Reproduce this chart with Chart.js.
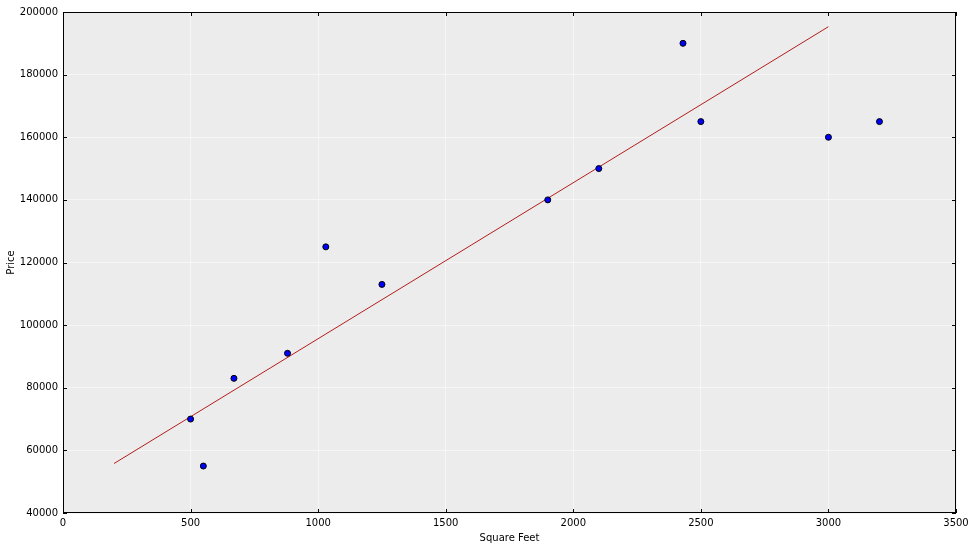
<!DOCTYPE html>
<html>
<head>
<meta charset="utf-8">
<script src="https://cdn.jsdelivr.net/npm/chart.js@4"></script>
<style>
  html, body { margin: 0; padding: 0; background: #fff; }
  #wrap { width: 974px; height: 550px; }
</style>
</head>
<body>
<div id="wrap"><canvas id="chart" width="974" height="550"></canvas></div>
<script>
  // Daten
  const squareFeet = [500, 550, 670, 880, 1030, 1250, 1900, 2100, 2430, 2500, 3000, 3200];
  const prices = [70000, 55000, 83000, 91000, 125000, 113000, 140000, 150000, 190000, 165000, 160000, 165000];
  const fitX = [200, 3000];
  const fitY = [55800, 195300];

  const FONT = { family: "'DejaVu Sans', sans-serif", size: 10 };

  // Hintergrund, Rahmen und innenliegende Ticks wie bei matplotlib
  const framePlugin = {
    id: "frame",
    beforeDraw(chart) {
      const a = chart.chartArea, ctx = chart.ctx;
      ctx.save();
      ctx.fillStyle = "#ececec";
      ctx.fillRect(a.left, a.top, a.right - a.left, a.bottom - a.top);
      ctx.restore();
    },
    afterDraw(chart) {
      const a = chart.chartArea, ctx = chart.ctx;
      const xs = chart.scales.x, ys = chart.scales.y;
      ctx.save();
      ctx.strokeStyle = "#000";
      ctx.lineWidth = 1;
      ctx.beginPath();
      xs.ticks.forEach(t => {
        const px = Math.round(xs.getPixelForValue(t.value)) + 0.5;
        ctx.moveTo(px, a.bottom); ctx.lineTo(px, a.bottom - 4);
        ctx.moveTo(px, a.top); ctx.lineTo(px, a.top + 4);
      });
      ys.ticks.forEach(t => {
        const py = Math.round(ys.getPixelForValue(t.value)) + 0.5;
        ctx.moveTo(a.left, py); ctx.lineTo(a.left + 4, py);
        ctx.moveTo(a.right, py); ctx.lineTo(a.right - 4, py);
      });
      ctx.stroke();
      ctx.strokeRect(Math.round(a.left) + 0.5, Math.round(a.top) + 0.5,
        Math.round(a.right - a.left) - 1, Math.round(a.bottom - a.top) - 1);
      ctx.restore();
    },
  };

  new Chart(document.getElementById("chart").getContext("2d"), {
    type: "scatter",
    data: {
      datasets: [
        {
          label: "Daten",
          data: squareFeet.map((x, i) => ({ x, y: prices[i] })),
          backgroundColor: "#0000ff",
          borderColor: "#000",
          borderWidth: 1,
          pointRadius: 3,
        },
        {
          label: "Regression",
          type: "line",
          data: fitX.map((x, i) => ({ x, y: fitY[i] })),
          borderColor: "#b41e1e",
          borderWidth: 1,
          pointRadius: 0,
          fill: false,
        },
      ],
    },
    options: {
      responsive: false,
      animation: false,
      layout: { padding: { top: 12, right: 18, left: 5, bottom: 6 } },
      plugins: {
        legend: { display: false },
        tooltip: { enabled: false },
      },
      scales: {
        x: {
          type: "linear",
          min: 0,
          max: 3500,
          afterFit: s => { s.height = 31; },
          grid: { color: "#f6f6f6", lineWidth: 1, drawTicks: false },
          border: { display: false },
          ticks: { stepSize: 500, color: "#000", font: FONT, padding: 4, maxRotation: 0, callback: v => String(v) },
          title: { display: true, text: "Square Feet", color: "#000", font: FONT, padding: { top: 0, bottom: 0 } },
        },
        y: {
          min: 40000,
          max: 200000,
          afterFit: s => { s.width = 58; },
          grid: { color: "#f6f6f6", lineWidth: 1, drawTicks: false },
          border: { display: false },
          ticks: { stepSize: 20000, color: "#000", font: FONT, padding: 5, callback: v => String(v) },
          title: { display: true, text: "Price", color: "#000", font: FONT, padding: { top: 0, bottom: 0 } },
        },
      },
    },
    plugins: [framePlugin],
  });
</script>
</body>
</html>
